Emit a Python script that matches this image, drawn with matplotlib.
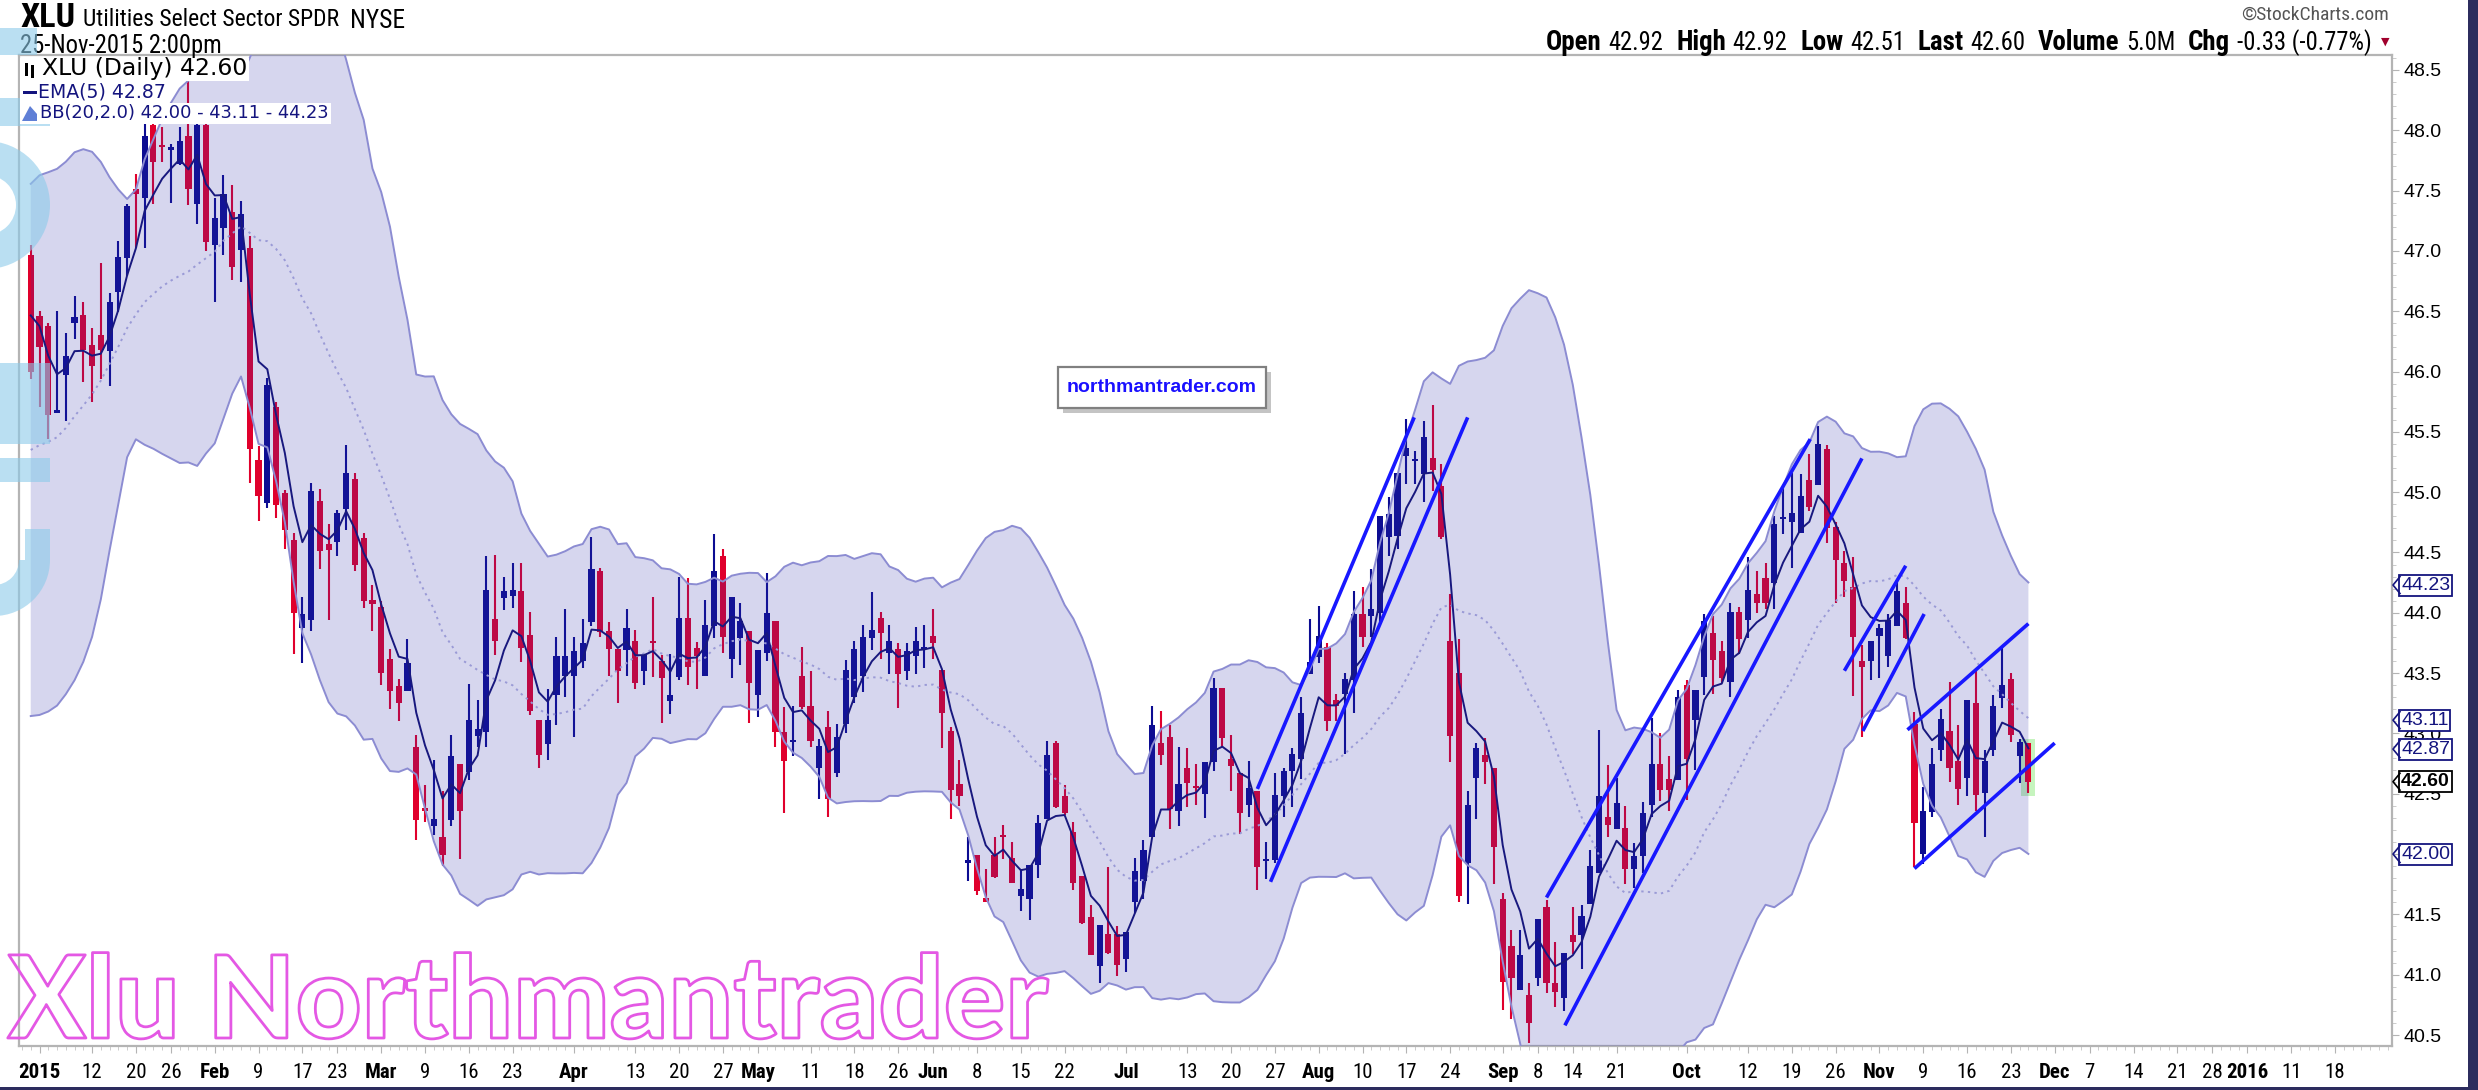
import matplotlib
matplotlib.use('Agg')
import numpy as np
import pandas as pd
import matplotlib.pyplot as plt
from matplotlib.patches import Rectangle, Wedge
from matplotlib.font_manager import FontProperties, fontManager, weight_dict
from matplotlib import transforms, patheffects

W, H = 2478, 1090

#Daily candles, 31-Dec-2014 .. 25-Nov-2015
opens = [46.97, 46.46, 46.38, 45.66, 45.97, 46.40, 46.47, 46.22, 46.30, 46.17,
         46.66, 46.94, 47.51, 47.44, 48.04, 47.88, 47.84, 47.72, 47.95, 47.39,
         48.04, 47.05, 47.19, 47.32, 47.01, 47.02, 45.27, 44.91, 45.71, 44.99,
         44.60, 43.87, 43.94, 44.93, 44.57, 44.59, 44.86, 45.11, 44.62, 44.11,
         44.05, 43.62, 43.39, 43.35, 42.89, 42.38, 42.23, 42.14, 42.28, 42.75,
         42.68, 42.98, 43.01, 43.95, 44.12, 44.14, 44.18, 43.82, 43.11, 42.91,
         43.32, 43.48, 43.48, 43.60, 43.92, 44.35, 43.85, 43.70, 43.69, 43.77,
         43.52, 43.76, 43.60, 43.27, 43.47, 43.96, 43.71, 43.48, 43.89, 44.47,
         43.62, 43.79, 43.85, 43.32, 43.67, 43.93, 43.01, 42.93, 43.48, 43.23,
         42.71, 43.05, 42.67, 43.08, 43.30, 43.48, 43.79, 43.96, 43.67, 43.70,
         43.52, 43.64, 43.70, 43.81, 43.53, 43.02, 42.58, 41.93, 41.99, 41.64,
         41.99, 42.15, 41.97, 41.65, 41.63, 41.91, 42.29, 42.92, 42.48, 42.18,
         41.82, 41.48, 41.07, 41.34, 41.34, 41.13, 41.60, 41.78, 42.14, 42.92,
         42.97, 42.36, 42.71, 42.56, 42.50, 42.76, 43.38, 42.79, 42.67, 42.41,
         42.52, 41.94, 41.95, 42.48, 42.69, 42.79, 43.49, 43.63, 43.72, 43.28,
         43.33, 43.44, 43.99, 43.97, 44.00, 44.63, 44.64, 45.30, 45.26, 45.15,
         45.28, 45.05, 43.77, 43.50, 41.93, 42.63, 42.82, 42.71, 41.63, 41.24,
         40.87, 40.83, 40.97, 41.56, 40.93, 40.81, 41.33, 41.33, 41.59, 41.84,
         42.31, 42.21, 42.22, 41.88, 41.98, 42.41, 42.75, 42.62, 42.61, 43.40,
         43.11, 43.47, 43.83, 43.68, 43.43, 44.01, 43.94, 44.16, 44.29, 44.25,
         44.78, 44.75, 44.66, 45.10, 45.06, 45.36, 44.71, 44.41, 44.21, 43.60,
         43.60, 43.81, 43.64, 43.89, 44.08, 43.08, 42.00, 42.35, 42.86, 43.02,
         42.77, 42.63, 43.25, 42.51, 42.86, 43.29, 43.45, 42.81, 42.92]
highs = [47.05, 46.50, 46.40, 46.50, 46.32, 46.63, 46.58, 46.36, 46.90, 46.65,
         47.08, 47.39, 47.64, 48.06, 48.10, 48.03, 47.89, 48.03, 48.41, 48.20,
         48.10, 47.44, 47.63, 47.55, 47.41, 47.12, 45.38, 45.95, 45.75, 45.02,
         44.66, 44.13, 45.08, 45.03, 44.74, 44.85, 45.39, 45.16, 44.66, 44.23,
         44.10, 43.70, 43.45, 43.78, 42.99, 42.57, 42.78, 42.52, 42.99, 42.75,
         43.41, 43.28, 44.47, 44.48, 44.30, 44.41, 44.41, 44.01, 43.11, 43.37,
         43.80, 44.03, 43.80, 43.95, 44.63, 44.37, 43.92, 43.70, 44.03, 43.86,
         43.65, 44.13, 43.65, 43.66, 44.30, 44.29, 43.76, 44.11, 44.65, 44.53,
         44.13, 44.08, 43.85, 43.69, 44.33, 43.93, 43.22, 43.23, 43.72, 43.52,
         42.95, 43.19, 43.08, 43.61, 43.77, 43.90, 44.17, 44.01, 43.90, 43.75,
         43.75, 43.88, 43.90, 44.03, 43.53, 43.05, 42.78, 42.14, 41.99, 41.88,
         42.14, 42.24, 42.10, 41.88, 41.91, 42.32, 42.94, 42.94, 42.57, 42.27,
         41.82, 41.58, 41.41, 41.89, 41.40, 41.35, 41.97, 42.12, 43.23, 43.19,
         43.07, 42.89, 42.88, 42.75, 42.76, 43.46, 43.38, 42.99, 42.67, 42.77,
         42.52, 42.10, 42.67, 42.71, 42.88, 43.30, 43.95, 44.06, 43.75, 43.33,
         43.50, 44.18, 44.21, 44.36, 44.80, 44.96, 45.16, 45.61, 45.34, 45.59,
         45.72, 45.23, 44.16, 43.78, 42.52, 42.92, 42.96, 42.71, 41.68, 41.37,
         41.37, 40.93, 41.46, 41.62, 41.27, 41.18, 41.56, 41.58, 42.03, 43.03,
         42.74, 42.63, 42.40, 42.09, 42.43, 43.13, 43.00, 42.81, 43.36, 43.44,
         43.36, 43.99, 43.97, 43.77, 44.08, 44.05, 44.46, 44.35, 44.41, 44.80,
         45.04, 45.16, 45.15, 45.32, 45.55, 45.39, 44.75, 44.51, 44.46, 43.73,
         43.77, 43.91, 43.99, 44.27, 44.21, 43.18, 42.56, 42.88, 43.20, 43.43,
         43.07, 43.28, 43.52, 42.86, 43.32, 43.72, 43.50, 42.95, 42.92]
lows = [45.94, 45.71, 45.44, 45.66, 45.59, 46.27, 45.91, 45.75, 45.94, 45.88,
        46.49, 46.79, 47.02, 47.02, 47.39, 47.74, 47.40, 47.71, 47.38, 47.22,
        47.00, 46.58, 46.97, 46.76, 46.74, 45.08, 44.76, 44.87, 44.79, 44.53,
        43.66, 43.58, 43.85, 44.36, 43.94, 44.47, 44.69, 44.35, 44.04, 43.85,
        43.40, 43.20, 43.10, 43.35, 42.12, 42.27, 42.16, 41.90, 42.23, 41.96,
        42.61, 42.89, 42.89, 43.65, 44.02, 44.04, 43.59, 43.15, 42.71, 42.78,
        43.07, 43.30, 42.97, 43.54, 43.89, 43.80, 43.48, 43.25, 43.48, 43.37,
        43.40, 43.47, 43.09, 43.16, 43.44, 43.40, 43.37, 43.48, 43.79, 43.67,
        43.46, 43.57, 43.09, 43.14, 43.60, 42.89, 42.34, 42.81, 43.20, 42.89,
        42.46, 42.31, 42.64, 43.00, 43.25, 43.34, 43.69, 43.62, 43.49, 43.21,
        43.44, 43.49, 43.54, 43.62, 42.88, 42.29, 42.40, 41.78, 41.66, 41.60,
        41.80, 41.96, 41.76, 41.53, 41.45, 41.80, 42.29, 42.38, 42.32, 41.70,
        41.42, 41.16, 40.93, 41.17, 40.99, 41.02, 41.51, 41.63, 42.14, 42.74,
        42.21, 42.23, 42.39, 42.41, 42.30, 42.69, 42.89, 42.52, 42.17, 42.31,
        41.70, 41.79, 41.93, 42.31, 42.39, 42.62, 43.49, 43.58, 43.02, 43.10,
        42.83, 43.17, 43.72, 43.80, 43.92, 44.47, 44.53, 45.07, 45.07, 44.92,
        45.01, 44.61, 42.76, 41.60, 41.59, 42.29, 42.58, 41.75, 40.71, 40.63,
        40.87, 40.43, 40.91, 40.85, 40.73, 40.70, 41.17, 41.05, 41.59, 41.84,
        42.14, 42.21, 41.75, 41.72, 41.84, 42.31, 42.44, 42.36, 42.61, 42.45,
        42.70, 43.32, 43.33, 43.42, 43.30, 43.66, 43.79, 44.00, 44.03, 44.03,
        44.65, 44.37, 44.66, 44.84, 45.06, 44.58, 44.08, 44.13, 43.31, 42.97,
        43.44, 43.46, 43.55, 43.89, 43.78, 41.89, 41.92, 42.31, 42.77, 42.60,
        42.41, 42.48, 42.36, 42.14, 42.81, 43.21, 42.93, 42.59, 42.51]
closes = [46.00, 46.20, 45.64, 45.67, 46.13, 46.45, 46.18, 46.05, 46.18, 46.58,
          46.95, 47.37, 47.47, 47.95, 47.74, 47.86, 47.85, 47.91, 47.51, 48.04,
          47.07, 47.27, 47.47, 46.87, 47.31, 45.36, 44.97, 45.89, 44.89, 44.69,
          44.00, 43.99, 45.01, 44.51, 44.52, 44.83, 45.16, 44.40, 44.10, 44.07,
          43.50, 43.35, 43.25, 43.58, 42.28, 42.36, 42.29, 41.99, 42.81, 42.36,
          43.11, 43.04, 44.19, 43.77, 44.18, 44.19, 43.71, 43.19, 42.82, 43.11,
          43.64, 43.64, 43.68, 43.75, 44.36, 43.84, 43.70, 43.52, 43.87, 43.42,
          43.65, 43.75, 43.46, 43.32, 43.96, 43.55, 43.64, 43.90, 44.35, 43.80,
          44.13, 43.93, 43.42, 43.69, 44.00, 43.01, 42.77, 42.94, 43.22, 42.94,
          42.90, 42.46, 42.97, 43.53, 43.70, 43.80, 43.86, 43.83, 43.77, 43.49,
          43.68, 43.77, 43.71, 43.75, 43.17, 42.53, 42.48, 41.94, 41.69, 41.60,
          41.81, 42.14, 41.76, 41.71, 41.91, 42.26, 42.82, 42.39, 42.34, 41.76,
          41.43, 41.16, 41.41, 41.18, 41.08, 41.35, 41.86, 42.03, 43.07, 42.82,
          42.37, 42.58, 42.59, 42.55, 42.76, 43.38, 42.96, 42.73, 42.34, 42.55,
          41.89, 41.95, 42.49, 42.69, 42.83, 43.17, 43.59, 43.81, 43.10, 43.23,
          43.45, 43.99, 43.80, 44.03, 44.80, 44.82, 45.16, 45.37, 45.27, 45.46,
          45.18, 44.63, 42.98, 41.65, 42.41, 42.88, 42.76, 42.06, 40.94, 40.97,
          41.16, 40.60, 41.46, 40.93, 40.86, 41.18, 41.27, 41.49, 41.90, 42.48,
          42.24, 42.42, 41.88, 41.98, 42.34, 42.75, 42.53, 42.53, 43.30, 42.79,
          43.36, 43.93, 43.61, 43.46, 44.01, 43.78, 44.19, 44.08, 44.08, 44.74,
          44.79, 44.83, 44.97, 44.88, 45.40, 44.70, 44.44, 44.26, 43.80, 43.55,
          43.77, 43.87, 43.94, 44.18, 43.79, 42.26, 42.36, 42.75, 43.12, 42.71,
          42.54, 43.28, 42.49, 42.77, 43.23, 43.40, 42.99, 42.93, 42.60]

#December 2014 closes (estimated from where the bands start)
warmup_closes = [45.4, 45.1, 44.9, 44.6, 44.5, 44.4, 44.2, 43.9, 43.8, 44.1,
                 44.3, 45.2, 45.9, 46.4, 46.6, 46.9, 47.1, 46.8, 46.9]

volume_text = '5.0M'
legend_ema = 42.87
legend_bb = (42.00, 43.11, 44.23)

holidays = ['2015-01-01', '2015-01-19', '2015-02-16', '2015-04-03', '2015-05-25',
            '2015-07-03', '2015-09-07', '2015-11-26', '2015-12-25', '2016-01-01']

tick_dates = ['2015-01-02', '2015-01-12', '2015-01-20', '2015-01-26', '2015-02-02', '2015-02-09',
              '2015-02-17', '2015-02-23', '2015-03-02', '2015-03-09', '2015-03-16', '2015-03-23',
              '2015-04-01', '2015-04-13', '2015-04-20', '2015-04-27', '2015-05-01', '2015-05-11',
              '2015-05-18', '2015-05-26', '2015-06-01', '2015-06-08', '2015-06-15', '2015-06-22',
              '2015-07-01', '2015-07-13', '2015-07-20', '2015-07-27', '2015-08-03', '2015-08-10',
              '2015-08-17', '2015-08-24', '2015-09-01', '2015-09-08', '2015-09-14', '2015-09-21',
              '2015-10-01', '2015-10-12', '2015-10-19', '2015-10-26', '2015-11-02', '2015-11-09',
              '2015-11-16', '2015-11-23', '2015-12-01', '2015-12-07', '2015-12-14', '2015-12-21',
              '2015-12-28', '2016-01-04', '2016-01-11', '2016-01-18']
tick_labels = ['2015', '12', '20', '26', 'Feb', '9', '17', '23', 'Mar', '9', '16', '23',
               'Apr', '13', '20', '27', 'May', '11', '18', '26', 'Jun', '8', '15', '22',
               'Jul', '13', '20', '27', 'Aug', '10', '17', '24', 'Sep', '8', '14', '21',
               'Oct', '12', '19', '26', 'Nov', '9', '16', '23', 'Dec', '7', '14', '21',
               '28', '2016', '11', '18']

#hand drawn channels: (start day, start price, end day, end price)
trend_lines = [(140.0, 42.54, 157.9, 45.62), (141.5, 41.77, 164.0, 45.62),
               (173.0, 41.64, 203.1, 45.44), (175.1, 40.58, 209.0, 45.28),
               (207.0, 43.52, 214.0, 44.39), (209.1, 43.02, 216.1, 43.99),
               (214.2, 43.03, 228.0, 43.91), (215.0, 41.88, 231.0, 42.92)]

names = {f.name for f in fontManager.ttflist}
SANS = 'Liberation Sans'
NAVY = '#14147e'


def fweight(f):
    return f.weight if isinstance(f.weight, int) else weight_dict.get(f.weight, 400)


def find_narrow(bold):
    pref = ['Liberation Sans Narrow', 'Roboto Condensed', 'Open Sans Condensed',
            'DejaVu Sans', 'Noto Sans', 'Open Sans', 'Roboto', 'Inter']
    for nm in pref:
        for f in fontManager.ttflist:
            if f.name != nm or f.style != 'normal':
                continue
            narrow = 'Narrow' in nm or 'Condensed' in nm or str(f.stretch) in ('condensed', 'semi-condensed')
            if not narrow:
                continue
            w = fweight(f)
            if (bold and 600 <= w <= 800) or (not bold and 350 <= w <= 450):
                return f.fname
    return None


def find_heavy():
    #heaviest upright face of a rounded-ish sans, for the watermark
    best = None
    for nm in ['Lato', 'Open Sans', 'Roboto', 'Noto Sans', 'Inter']:
        for f in fontManager.ttflist:
            if f.name == nm and f.style == 'normal' and str(f.stretch) == 'normal':
                if best is None or fweight(f) > fweight(best):
                    best = f
        if best is not None and fweight(best) >= 700:
            return best.fname
    return best.fname if best is not None else None

NR = find_narrow(False)
NB = find_narrow(True)
HAVE_NARROW = NR is not None and NB is not None


def nfont(bold, size):
    if HAVE_NARROW:
        return FontProperties(fname=NB if bold else NR, size=size)
    return FontProperties(family=SANS, weight='bold' if bold else 'normal', size=size * 0.88)


def fx(x):
    return x / W


def fy(y):
    return 1 - y / H


fig = plt.figure(figsize=(W / 100, H / 100), dpi=100)
fig.patch.set_facecolor('white')
ax = fig.add_axes([fx(19), fy(1046), (2392 - 19) / W, (1046 - 55) / H])
renderer = fig.canvas.get_renderer()


def fit_text(xl, yc, txt, xr, **kw):
    #place text starting at xl and size it so it ends near xr (pixels)
    t = fig.text(fx(xl), fy(yc), txt, va='center', ha='left', **kw)
    w = t.get_window_extent(renderer).width
    t.set_fontsize(t.get_fontsize() * (xr - xl) / w)
    return t


days = pd.bdate_range('2014-12-31', '2016-01-29')
days = days[~days.isin(pd.to_datetime(holidays))]

o = np.array(opens); h = np.array(highs); l = np.array(lows); c = np.array(closes)
x = np.arange(len(c))
up = c >= o
cols = np.where(up, '#0c0c92', '#e0002c')

#last day highlight
ax.add_patch(Rectangle((x[-1] - 0.8, l[-1] - 0.03), 1.6, h[-1] - l[-1] + 0.06,
                       fc='#c6f4be', ec='none', zorder=1.5))

ax.vlines(x, l, h, colors=cols, lw=1.5, zorder=2)
body = np.maximum(np.abs(c - o), 0.018)
ax.bar(x, body, bottom=np.minimum(o, c), width=0.7, color=cols, lw=0, zorder=2)

allc = pd.Series(warmup_closes + closes)
mid = allc.rolling(20).mean().values[-len(c):]
sd = allc.rolling(20).std(ddof=0).values[-len(c):]
ema = allc.ewm(span=5, adjust=False).mean().values[-len(c):]
upper = mid + 2 * sd
lower = mid - 2 * sd

ax.fill_between(x, lower, upper, color=(50 / 255, 50 / 255, 170 / 255), alpha=0.2, lw=0, zorder=3)
ax.plot(x, upper, color='#8c8cd2', lw=1.4, zorder=4)
ax.plot(x, lower, color='#8c8cd2', lw=1.4, zorder=4)
ax.plot(x, mid, color='#9a9ad6', lw=1.4, ls=(0, (1.2, 2.2)), zorder=4)
ax.plot(x, ema, color='#18187e', lw=1.4, zorder=4)

for x0, y0, x1, y1 in trend_lines:
    ax.plot([x0, x1], [y0, y1], color='#1818ff', lw=2.6, solid_capstyle='butt', zorder=5)

ax.set_xlim(-1.34, 269.5)
ax.set_ylim(40.409, 48.624)
for s in ax.spines.values():
    s.set_color('#b4b4b4')
    s.set_linewidth(1.6)

pos = days.get_indexer(pd.to_datetime(tick_dates))
ax.set_xticks(pos)
ax.set_xticklabels(tick_labels)
ax.set_xticks(np.arange(-1, 270), minor=True)
for lab in ax.get_xticklabels():
    txt = lab.get_text()
    lab.set_fontproperties(nfont(not txt.isdigit() or len(txt) == 4, 15))
ax.tick_params(axis='x', which='major', length=5, color='#b4b4b4', pad=7)
ax.tick_params(axis='x', which='minor', length=3, color='#c4c4c4')

#price tags on the right axis
tags = [(legend_bb[2], NAVY, 'normal'), (legend_bb[1], NAVY, 'normal'),
        (legend_ema, NAVY, 'normal'), (closes[-1], 'black', 'bold'), (legend_bb[0], NAVY, 'normal')]

ax.yaxis.tick_right()
yt = np.arange(40.5, 48.51, 0.5)
ax.set_yticks(yt)
#the 42.0 label sits under the lower band tag
ax.set_yticklabels(['' if abs(v - legend_bb[0]) < 0.05 else f'{v:.1f}' for v in yt],
                   fontfamily=SANS, fontsize=14)
ax.set_yticks(np.arange(40.5, 48.61, 0.1), minor=True)
ax.tick_params(axis='y', which='major', length=5, color='#b4b4b4', pad=3)
ax.tick_params(axis='y', which='minor', length=3, color='#c4c4c4')

bt = transforms.blended_transform_factory(ax.transAxes, ax.transData)
dx = 1 / (2392 - 19)
for v, col, wt in tags:
    ax.text(1 + 9 * dx, v, f'{v:.2f}', transform=bt, ha='left', va='center', fontsize=14,
            fontfamily=SANS, color=col, fontweight=wt, zorder=10,
            bbox=dict(boxstyle='square,pad=0.1', fc='white', ec=col, lw=1.3))
    ax.plot([1 + 8 * dx, 1 + 1 * dx, 1 + 8 * dx], [v + 0.07, v, v - 0.07], transform=bt,
            color=col, lw=1.2, clip_on=False, zorder=10)

#header
fit_text(20, 18, 'XLU', 75, fontproperties=nfont(True, 20))
fit_text(83, 20, 'Utilities Select Sector SPDR', 340, fontproperties=nfont(False, 16))
fit_text(350, 21, 'NYSE', 405, fontproperties=nfont(False, 14))
fit_text(20, 46, '25-Nov-2015 2:00pm', 222, fontproperties=nfont(False, 15))
fig.text(fx(2389), fy(15), '\u00a9StockCharts.com', fontproperties=nfont(False, 14),
         color='#555555', ha='right', va='center')

chg = closes[-1] - closes[-2]
pieces = [('Open', True), (f'{opens[-1]:.2f}', False), ('High', True), (f'{highs[-1]:.2f}', False),
          ('Low', True), (f'{lows[-1]:.2f}', False), ('Last', True), (f'{closes[-1]:.2f}', False),
          ('Volume', True), (volume_text, False), ('Chg', True),
          (f'{chg:.2f} ({100 * chg / closes[-2]:.2f}%)', False)]
#size the info line so it runs from x=1546 to x=2374
scale = 1.0
for attempt in range(2):
    xp = 1546
    made = []
    for txt, b in pieces:
        tt = fig.text(fx(xp), fy(43), txt, fontproperties=nfont(b, (17 if b else 15.5) * scale),
                      va='center')
        made.append(tt)
        xp += tt.get_window_extent(renderer).width + (6 if b else 11) * scale
    if attempt == 0:
        for tt in made:
            tt.remove()
        scale = (2374 - 1546) / (xp - 11 * scale - 1546)
fig.text(fx(xp - 4), fy(42), '\u25bc', fontsize=8, color='#a0002c', va='center')

#legend
leg = [('XLU (Daily) 42.60', 'black', 42, 69, 246),
       (f'EMA(5) {legend_ema:.2f}', NAVY, 38, 92, 165),
       (f'BB(20,2.0) {legend_bb[0]:.2f} - {legend_bb[1]:.2f} - {legend_bb[2]:.2f}', NAVY, 40, 113, 328)]
tops = [58, 81, 103, 124]
for k, (txt, col, x0, y0, x1) in enumerate(leg):
    t = fit_text(x0, y0, txt, x1, fontfamily='DejaVu Sans', fontsize=12, color=col, zorder=8)
    fig.add_artist(Rectangle((fx(20), fy(tops[k + 1])), (x1 + 3 - 20) / W,
                             (tops[k + 1] - tops[k]) / H, transform=fig.transFigure,
                             fc='white', ec='none', zorder=7))
#legend icons
fig.add_artist(Rectangle((fx(25), fy(76)), 3 / W, 13 / H, transform=fig.transFigure, fc='black', zorder=9))
fig.add_artist(Rectangle((fx(31), fy(78)), 3 / W, 13 / H, transform=fig.transFigure, fc='black', zorder=9))
fig.add_artist(Rectangle((fx(23), fy(94)), 14 / W, 3 / H, transform=fig.transFigure, fc=NAVY, zorder=9))
fig.add_artist(plt.Polygon([(fx(22), fy(121)), (fx(30), fy(106)), (fx(37), fy(114)), (fx(37), fy(121))],
                           closed=True, transform=fig.transFigure, fc='#5f7fd6', ec='none', zorder=9))

#site box
fig.add_artist(Rectangle((fx(1063), fy(413)), 208 / W, 41 / H, transform=fig.transFigure,
                         fc='#c4c4c4', ec='none', zorder=8))
fig.add_artist(Rectangle((fx(1058), fy(408)), 208 / W, 41 / H, transform=fig.transFigure,
                         fc='white', ec='#808080', lw=1.6, zorder=9))
fig.text(fx(1162), fy(388), 'northmantrader.com', fontfamily=SANS, fontweight='bold', fontsize=14,
         color='#1a10ff', ha='center', va='center', zorder=10)

#pink outline watermark, kept clear of the date labels
heavy = find_heavy()
wprop = FontProperties(fname=heavy, size=70) if heavy else FontProperties(family='DejaVu Sans', weight='bold', size=70)
wm = fig.text(fx(8), fy(1038), 'Xlu Northmantrader', fontproperties=wprop,
              color=(1, 1, 1, 0), va='baseline', ha='left', zorder=6,
              path_effects=[patheffects.Stroke(linewidth=2.0, foreground='#e458e4')])
wm.set_fontsize(70 * 1040 / wm.get_window_extent(renderer).width)

#light blue fragment at the left edge
lb = dict(fc='#8ccbea', ec='none', alpha=0.6, transform=transforms.IdentityTransform(), zorder=6)
fig.add_artist(Rectangle((0, H - 55), 37, 27, **lb))
fig.add_artist(Rectangle((0, H - 126), 50, 28, **lb))
fig.add_artist(Wedge((-14, H - 205), 64, -90, 90, width=34, **lb))
fig.add_artist(Rectangle((0, H - 444), 50, 81, **lb))
fig.add_artist(Rectangle((0, H - 482), 50, 24, **lb))
fig.add_artist(Rectangle((25, H - 560), 25, 31, **lb))
fig.add_artist(Wedge((-6, H - 560), 56, -90, 0, width=31, **lb))

#window border
fig.add_artist(Rectangle((fx(2468), 0), 10 / W, 1, transform=fig.transFigure, fc='#2c2c5e', ec='none'))
fig.add_artist(Rectangle((0, 0), 1, 3 / H, transform=fig.transFigure, fc='#2c2c5e', ec='none'))

fig.savefig('out.png', dpi=100)
